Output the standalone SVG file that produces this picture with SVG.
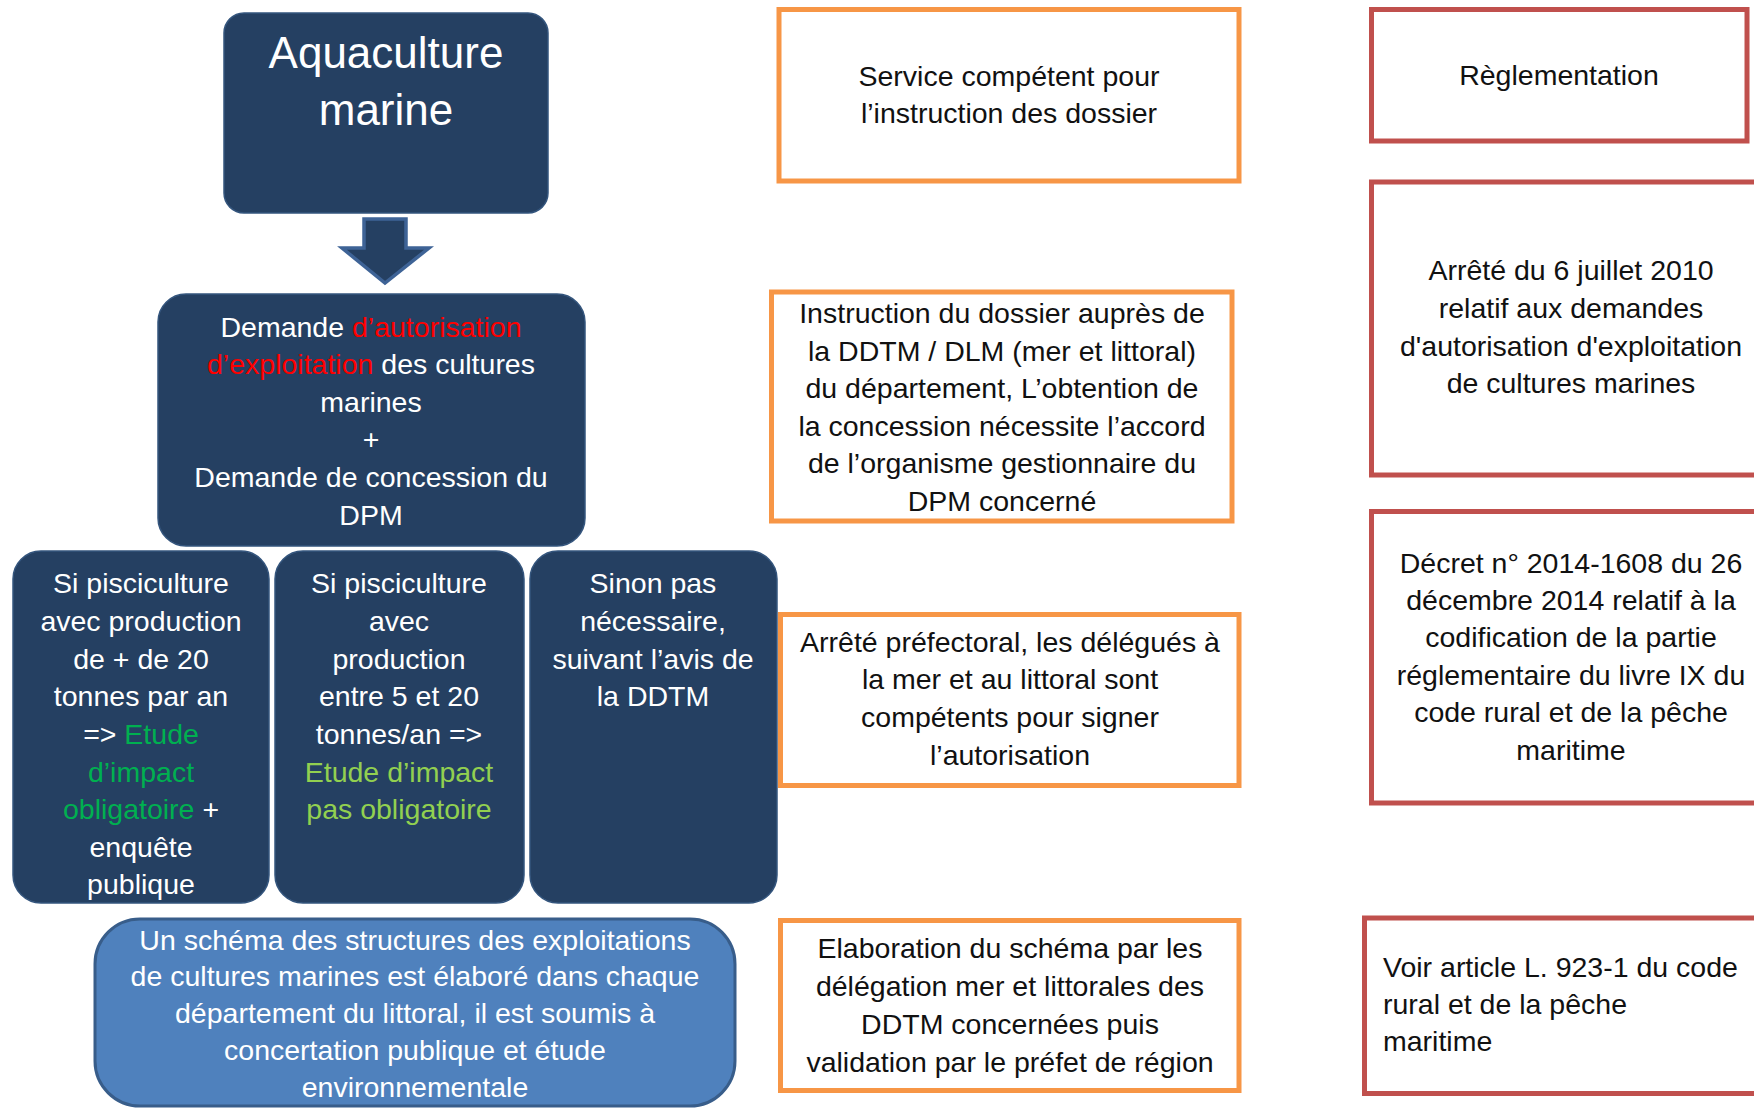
<svg xmlns="http://www.w3.org/2000/svg" width="1754" height="1108" viewBox="0 0 1754 1108">
<style>
text{font-family:"Liberation Sans",Arial,sans-serif;font-size:28.5px;text-anchor:middle}
.dark{fill:#254062;stroke:#34557d;stroke-width:1.5}
.w{fill:#ffffff}
.k{fill:#111111}
.red{fill:#ff0000}
.g1{fill:#00b050}
.g2{fill:#92d050}
.ob{fill:#ffffff;stroke:#f79646;stroke-width:5}
.rb{fill:#ffffff;stroke:#c0504d;stroke-width:5}
.left{text-anchor:start}
</style>
<rect width="1754" height="1108" fill="#ffffff"/>
<g id="connectors">
<polygon points="364,219 406,219 406,248 429,248 385,283 342,248 364,248" fill="#254062" stroke="#3e6396" stroke-width="3.5" stroke-linejoin="miter"/>
</g>
<g id="aquaculture">
<rect class="dark" x="224" y="13" width="324" height="200" rx="20"/>
<text class="w" x="386" y="68" style="font-size:44px">Aquaculture</text>
<text class="w" x="386" y="125" style="font-size:44px">marine</text>
</g>
<g id="demande">
<rect class="dark" x="158" y="294" width="427" height="252" rx="28"/>
<text class="w" x="371" y="337">Demande <tspan class="red">d’autorisation</tspan></text>
<text class="w" x="371" y="374"><tspan class="red">d’exploitation</tspan> des cultures</text>
<text class="w" x="371" y="412">marines</text>
<text class="w" x="371" y="449">+</text>
<text class="w" x="371" y="487">Demande de concession du</text>
<text class="w" x="371" y="525">DPM</text>
</g>
<g id="pisci20">
<rect class="dark" x="13" y="551" width="256" height="352" rx="28"/>
<text class="w" x="141" y="593">Si pisciculture</text>
<text class="w" x="141" y="631">avec production</text>
<text class="w" x="141" y="669">de + de 20</text>
<text class="w" x="141" y="706">tonnes par an</text>
<text class="w" x="141" y="744">=&gt; <tspan class="g1">Etude</tspan></text>
<text class="g1" x="141" y="782">d’impact</text>
<text class="w" x="141" y="819"><tspan class="g1">obligatoire</tspan> +</text>
<text class="w" x="141" y="857">enquête</text>
<text class="w" x="141" y="894">publique</text>
</g>
<g id="pisci5">
<rect class="dark" x="275" y="551" width="249" height="352" rx="28"/>
<text class="w" x="399" y="593">Si pisciculture</text>
<text class="w" x="399" y="631">avec</text>
<text class="w" x="399" y="669">production</text>
<text class="w" x="399" y="706">entre 5 et 20</text>
<text class="w" x="399" y="744">tonnes/an =&gt;</text>
<text class="g2" x="399" y="782">Etude d’impact</text>
<text class="g2" x="399" y="819">pas obligatoire</text>
</g>
<g id="sinon">
<rect class="dark" x="530" y="551" width="247" height="352" rx="28"/>
<text class="w" x="653" y="593">Sinon pas</text>
<text class="w" x="653" y="631">nécessaire,</text>
<text class="w" x="653" y="669">suivant l’avis de</text>
<text class="w" x="653" y="706">la DDTM</text>
</g>
<g id="schema">
<rect x="95" y="919" width="640" height="187" rx="45" fill="#4f81bd" stroke="#385d8a" stroke-width="3"/>
<text class="w" x="415" y="950">Un schéma des structures des exploitations</text>
<text class="w" x="415" y="986">de cultures marines est élaboré dans chaque</text>
<text class="w" x="415" y="1023">département du littoral, il est soumis à</text>
<text class="w" x="415" y="1060">concertation publique et étude</text>
<text class="w" x="415" y="1097">environnementale</text>
</g>
<g id="service">
<rect class="ob" x="779" y="9.5" width="460" height="171.5"/>
<text class="k" x="1009" y="86">Service compétent pour</text>
<text class="k" x="1009" y="123">l’instruction des dossier</text>
</g>
<g id="instruction">
<rect class="ob" x="771.5" y="292" width="460.5" height="229"/>
<text class="k" x="1002" y="323">Instruction du dossier auprès de</text>
<text class="k" x="1002" y="361">la DDTM / DLM (mer et littoral)</text>
<text class="k" x="1002" y="398">du département, L’obtention de</text>
<text class="k" x="1002" y="436">la concession nécessite l’accord</text>
<text class="k" x="1002" y="473">de l’organisme gestionnaire du</text>
<text class="k" x="1002" y="511">DPM concerné</text>
</g>
<g id="arrete-pref">
<rect class="ob" x="780.5" y="614.5" width="458.5" height="171"/>
<text class="k" x="1010" y="652">Arrêté préfectoral, les délégués à</text>
<text class="k" x="1010" y="689">la mer et au littoral sont</text>
<text class="k" x="1010" y="727">compétents pour signer</text>
<text class="k" x="1010" y="765">l’autorisation</text>
</g>
<g id="elaboration">
<rect class="ob" x="780.5" y="920.5" width="458.5" height="170"/>
<text class="k" x="1010" y="958">Elaboration du schéma par les</text>
<text class="k" x="1010" y="996">délégation mer et littorales des</text>
<text class="k" x="1010" y="1034">DDTM concernées puis</text>
<text class="k" x="1010" y="1072">validation par le préfet de région</text>
</g>
<g id="reglementation">
<rect class="rb" x="1371.5" y="9.5" width="375.5" height="131.5"/>
<text class="k" x="1559" y="85">Règlementation</text>
</g>
<g id="arrete-2010">
<rect class="rb" x="1371.5" y="182" width="440" height="293"/>
<text class="k" x="1571" y="280">Arrêté du 6 juillet 2010</text>
<text class="k" x="1571" y="318">relatif aux demandes</text>
<text class="k" x="1571" y="356">d'autorisation d'exploitation</text>
<text class="k" x="1571" y="393">de cultures marines</text>
</g>
<g id="decret">
<rect class="rb" x="1371.5" y="511.5" width="440" height="291.5"/>
<text class="k" x="1571" y="573">Décret n° 2014-1608 du 26</text>
<text class="k" x="1571" y="610">décembre 2014 relatif à la</text>
<text class="k" x="1571" y="647">codification de la partie</text>
<text class="k" x="1571" y="685">réglementaire du livre IX du</text>
<text class="k" x="1571" y="722">code rural et de la pêche</text>
<text class="k" x="1571" y="760">maritime</text>
</g>
<g id="voir-article">
<rect class="rb" x="1364.5" y="918" width="450" height="175.5"/>
<text class="k left" x="1383" y="977">Voir article L. 923-1 du code</text>
<text class="k left" x="1383" y="1014">rural et de la pêche</text>
<text class="k left" x="1383" y="1051">maritime</text>
</g>
</svg>
